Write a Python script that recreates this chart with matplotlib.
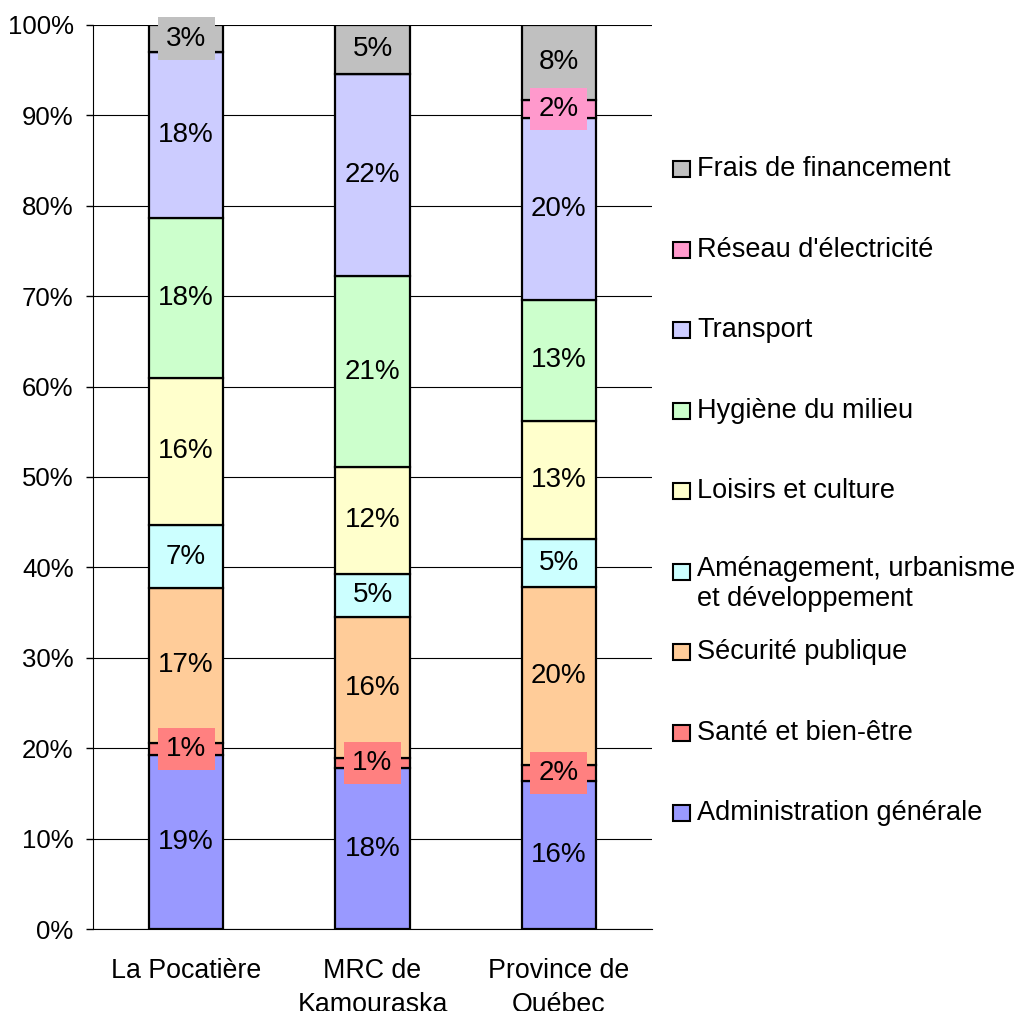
import numpy as np
import matplotlib
matplotlib.use("Agg")
from matplotlib import pyplot as plt
from matplotlib.patches import Rectangle

plt.rcParams['font.family'] = ['Liberation Sans', 'DejaVu Sans']

# données (% des dépenses)
villes = ["La Pocatière", "MRC de\nKamouraska", "Province de\nQuébec"]
categories = ["Administration générale", "Santé et bien-être", "Sécurité publique",
              "Aménagement, urbanisme\net développement", "Loisirs et culture",
              "Hygiène du milieu", "Transport", "Réseau d'électricité",
              "Frais de financement"]
admin = [19.2, 17.8, 16.4]
sante = [1.4, 1.1, 1.7]
securite = [17.1, 15.6, 19.7]
amenagement = [7.0, 4.8, 5.3]
loisirs = [16.3, 11.8, 13.1]
hygiene = [17.7, 21.1, 13.4]
transport = [18.3, 22.4, 20.1]
reseau = [0.0, 0.0, 2.0]
frais = [3.0, 5.4, 8.3]
couleurs = ["#9999FF", "#FF8080", "#FFCC99", "#CCFFFF", "#FFFFCC",
            "#CCFFCC", "#CCCCFF", "#FF99CC", "#C0C0C0"]

series = [admin, sante, securite, amenagement, loisirs, hygiene, transport, reseau, frais]

fig = plt.figure(figsize=(10.18, 10.11), dpi=100)
ax = fig.add_axes([93 / 1018, 0.0811, 559 / 1018, 0.8942])

x = np.arange(len(villes))
bas = np.zeros(len(villes))
for vals, c in zip(series, couleurs):
    vals = np.array(vals)
    ax.bar(x, vals, 0.4, bottom=bas, color=c, edgecolor='black', linewidth=1.6, zorder=3)
    for i, v in enumerate(vals):
        if v <= 0:
            continue
        ym = bas[i] + v / 2
        if v < 4:
            # petites tranches : étiquette sur fond de la couleur de la série
            ax.text(x[i], ym, "%d%%" % round(v), ha='center', va='center', fontsize=20,
                    zorder=5, bbox=dict(boxstyle='square,pad=0.3', fc=c, ec='none'))
        else:
            ax.text(x[i], ym, "%d%%" % round(v), ha='center', va='center', fontsize=20, zorder=5)
    bas += vals

ax.set_xlim(-0.5, 2.5)
ax.set_ylim(0, 100)
ax.set_yticks(np.arange(0, 101, 10))
ax.set_yticklabels(["%d%%" % t for t in range(0, 101, 10)])
ax.set_xticks(x)
ax.set_xticklabels(villes, linespacing=1.4)
ax.tick_params(axis='y', labelsize=18.5, length=5, width=1, pad=9)
ax.tick_params(axis='x', labelsize=19.3, length=0, pad=21)
ax.grid(axis='y', color='black', linewidth=0.8, zorder=0)
ax.spines['top'].set_visible(False)
ax.spines['right'].set_visible(False)
ax.spines['left'].set_linewidth(0.8)
ax.spines['bottom'].set_linewidth(0.8)

# légende manuelle (ordre inversé)
W, H = 1018, 1011
y0, pas = 169, 80.5
for k, (lab, c) in enumerate(zip(categories[::-1], couleurs[::-1])):
    yc = y0 + k * pas
    fig.patches.append(Rectangle((673 / W, 1 - (yc + 8) / H), 17 / W, 16 / H,
                                 transform=fig.transFigure, fc=c, ec='black', lw=1.5))
    t = fig.text(697 / W, 1 - yc / H, lab, fontsize=19.5, va='center', ha='left',
                 linespacing=1.2)
    if '\n' in lab:
        t.set_va('top')
        t.set_y(1 - (yc - 16) / H)

fig.savefig("out.png", dpi=100)
